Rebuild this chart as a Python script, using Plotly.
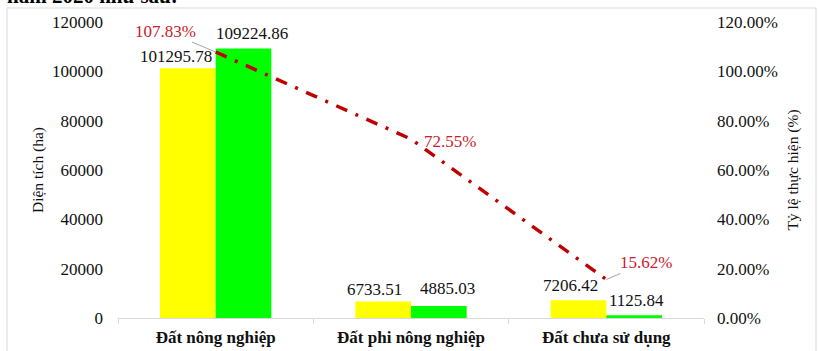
import plotly.graph_objects as go

categories = ["Đất nông nghiệp", "Đất phi nông nghiệp", "Đất chưa sử dụng"]
plan_values = [101295.78, 6733.51, 7206.42]
actual_values = [109224.86, 4885.03, 1125.84]
rate_values = [1.0783, 0.7255, 0.1562]
y_ticks = [0, 20000, 40000, 60000, 80000, 100000, 120000]
y2_ticks = [0, 0.2, 0.4, 0.6, 0.8, 1.0, 1.2]

W, H = 819, 351
L, R, T, B = 118, 115, 22, 33
pw, ph = W - L - R, H - T - B

def px(xp):
    return (xp - L) / pw

def py(yp):
    return (H - B - yp) / ph

serif = "Liberation Serif, Times New Roman, serif"
red_txt = "#C8202A"

fig = go.Figure()
fig.add_trace(go.Bar(x=categories, y=plan_values, marker_color="#FFFF00",
                     marker_line_width=0, name="Kế hoạch"))
fig.add_trace(go.Bar(x=categories, y=actual_values, marker_color="#00FF00",
                     marker_line_width=0, name="Thực hiện"))
fig.add_trace(go.Scatter(x=categories, y=rate_values, yaxis="y2", mode="lines",
                         line=dict(color="#C00000", width=3.5, dash="12px,9px,3px,9px"),
                         name="Tỷ lệ"))

annotations = []
plan_shift = [(-40, 0), (-37, 0), (-36, 3)]
act_shift = [(36, 4), (36, 6), (30, 3)]
for i, c in enumerate(categories):
    annotations.append(dict(x=c, y=plan_values[i], xref="x", yref="y",
                            text=f"{plan_values[i]:.2f}", showarrow=False,
                            yanchor="bottom", xshift=plan_shift[i][0], yshift=plan_shift[i][1],
                            font=dict(family=serif, size=17, color="#111")))
    annotations.append(dict(x=c, y=actual_values[i], xref="x", yref="y",
                            text=f"{actual_values[i]:.2f}", showarrow=False,
                            yanchor="bottom", xshift=act_shift[i][0], yshift=act_shift[i][1],
                            font=dict(family=serif, size=17, color="#111")))

# rate labels
annotations.append(dict(x=categories[0], y=rate_values[0], xref="x", yref="y2",
                        text=f"{rate_values[0]*100:.2f}%", showarrow=True, arrowhead=0,
                        arrowwidth=1, arrowcolor="#A6A6A6", ax=-50, ay=-21,
                        font=dict(family=serif, size=17, color=red_txt)))
annotations.append(dict(x=categories[1], y=rate_values[1], xref="x", yref="y2",
                        text=f"{rate_values[1]*100:.2f}%", showarrow=False,
                        xshift=39, yshift=-2,
                        font=dict(family=serif, size=17, color=red_txt)))
annotations.append(dict(x=categories[2], y=rate_values[2], xref="x", yref="y2",
                        text=f"{rate_values[2]*100:.2f}%", showarrow=True, arrowhead=0,
                        arrowwidth=1, arrowcolor="#A6A6A6", ax=40, ay=-17,
                        font=dict(family=serif, size=17, color=red_txt)))

# partially visible heading above the chart
annotations.append(dict(x=px(5), y=py(10), xref="paper", yref="paper",
                        xanchor="left", yanchor="bottom", showarrow=False,
                        text="<b>năm 2020 như sau:</b>",
                        font=dict(family=serif, size=21, color="#000")))

shapes = [dict(type="rect", xref="paper", yref="paper",
               x0=px(7), x1=px(816), y0=py(370), y1=py(8),
               line=dict(color="#D9D9D9", width=1), fillcolor="rgba(0,0,0,0)", layer="below")]

fig.update_layout(
    width=W, height=H,
    margin=dict(l=L, r=R, t=T, b=B, pad=0, autoexpand=False),
    paper_bgcolor="white", plot_bgcolor="white",
    barmode="group", bargap=0.43, bargroupgap=0,
    showlegend=False,
    font=dict(family=serif, size=16, color="#222"),
    xaxis=dict(showline=True, linecolor="#D9D9D9", linewidth=1, automargin=False,
               ticks="outside", tickson="boundaries", ticklen=5, tickcolor="#D9D9D9",
               showgrid=False, ticklabelstandoff=4,
               tickfont=dict(family=serif, size=17, color="#111", weight="bold")),
    yaxis=dict(range=[0, 120000], tickvals=y_ticks, tickformat="d", showgrid=False,
               zeroline=False, showline=False, ticks="", ticklabelstandoff=14,
               automargin=False,
               tickfont=dict(family=serif, size=17, color="#111"),
               title=dict(text="Diện tích (ha)", standoff=4,
                          font=dict(family=serif, size=15.5, color="#111"))),
    yaxis2=dict(range=[0, 1.2], tickvals=y2_ticks, tickformat=".2%", overlaying="y",
                side="right", showgrid=False, zeroline=False, showline=False, ticks="",
                ticklabelstandoff=12, automargin=False,
                tickfont=dict(family=serif, size=17, color="#111"),
                title=dict(text="Tỷ lệ thực hiện (%)", standoff=10,
                           font=dict(family=serif, size=15.5, color="#111"))),
    annotations=annotations,
    shapes=shapes,
)

fig.write_html("out.html")
